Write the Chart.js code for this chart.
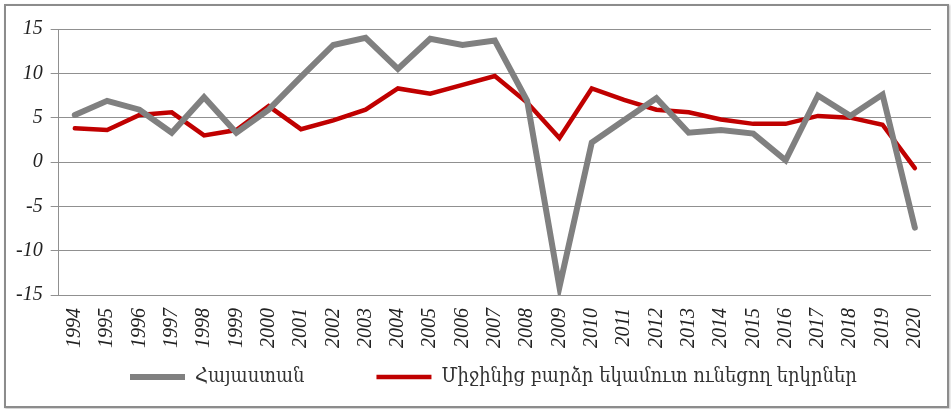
<!DOCTYPE html>
<html>
<head>
<meta charset="utf-8">
<script src="https://cdn.jsdelivr.net/npm/chart.js@4/dist/chart.umd.min.js"></script>
<style>
  body { margin: 0; background: #fff; }
  .frame {
    position: absolute;
    left: 4px;
    top: 4px;
    width: 941px;
    height: 400px;
    border: 2px solid #8c8c8c;
    box-shadow: 1px 1px 2px rgba(0, 0, 0, 0.25);
  }
</style>
</head>
<body>
<div class="frame"><canvas id="growthChart" width="941" height="400"></canvas></div>
<script>
const years = ["1994", "1995", "1996", "1997", "1998", "1999", "2000", "2001", "2002", "2003", "2004", "2005", "2006",
  "2007", "2008", "2009", "2010", "2011", "2012", "2013", "2014", "2015", "2016", "2017", "2018", "2019", "2020"]
const armenia = [5.3, 6.9, 5.9, 3.3, 7.3, 3.3, 5.9, 9.6, 13.2, 14.0, 10.5, 13.9, 13.2,
  13.7, 6.9, -14.1, 2.2, 4.7, 7.2, 3.3, 3.6, 3.2, 0.2, 7.5, 5.2, 7.6, -7.4]
const upperMiddle = [3.8, 3.6, 5.3, 5.6, 3.0, 3.6, 6.3, 3.7, 4.7, 5.9, 8.3, 7.7, 8.7,
  9.7, 6.7, 2.7, 8.3, 7.0, 5.9, 5.6, 4.8, 4.3, 4.3, 5.2, 5.0, 4.2, -0.7]
const seriesNames = ["Հայաստան", "Միջինից բարձր եկամուտ ունեցող երկրներ"]

// the legend gap between items is wide (72px) but the box itself is short,
// so move the drawn legend into place after layout
const legendShift = {
  id: "legendShift",
  afterLayout(chart) {
    chart.legend.left += 50
    chart.legend.right += 50
    chart.legend.top = 371 - 72 - 10
  },
}

const ctx = document.getElementById("growthChart")

new Chart(ctx, {
  type: "line",
  data: {
    labels: years,
    datasets: [
      {
        label: seriesNames[0],
        data: armenia,
        borderColor: "#808080",
        backgroundColor: "#808080",
        borderWidth: 6,
        borderCapStyle: "round",
        borderJoinStyle: "miter",
        pointRadius: 0,
        tension: 0,
      },
      {
        label: seriesNames[1],
        data: upperMiddle,
        borderColor: "#c00000",
        backgroundColor: "#c00000",
        borderWidth: 4.5,
        borderCapStyle: "round",
        pointRadius: 0,
        tension: 0,
      },
    ],
  },
  options: {
    responsive: false,
    animation: false,
    layout: {
      padding: { left: 2, right: 16, top: 23, bottom: 13 },
    },
    scales: {
      x: {
        offset: true,
        grid: { display: false },
        border: { display: false },
        ticks: {
          minRotation: 90,
          maxRotation: 90,
          autoSkip: false,
          padding: 5,
          color: "#222",
          font: { family: "Liberation Serif", style: "italic", size: 20 },
        },
      },
      y: {
        min: -15,
        max: 15,
        grid: {
          color: "#909090",
          lineWidth: 1,
          tickLength: 8,
        },
        border: { display: true, color: "#909090" },
        ticks: {
          stepSize: 5,
          padding: 8,
          color: "#222",
          font: { family: "Liberation Serif", style: "italic", size: 20 },
        },
      },
    },
    plugins: {
      legend: {
        position: "bottom",
        align: "start",
        maxHeight: 40,
        labels: {
          usePointStyle: true,
          pointStyle: "line",
          pointStyleWidth: 55,
          padding: 72,
          color: "#333",
          font: { family: "'DejaVu Serif Condensed', 'DejaVu Sans Condensed'", size: 20 },
        },
      },
      tooltip: { enabled: false },
    },
  },
  plugins: [legendShift],
})
</script>
</body>
</html>
